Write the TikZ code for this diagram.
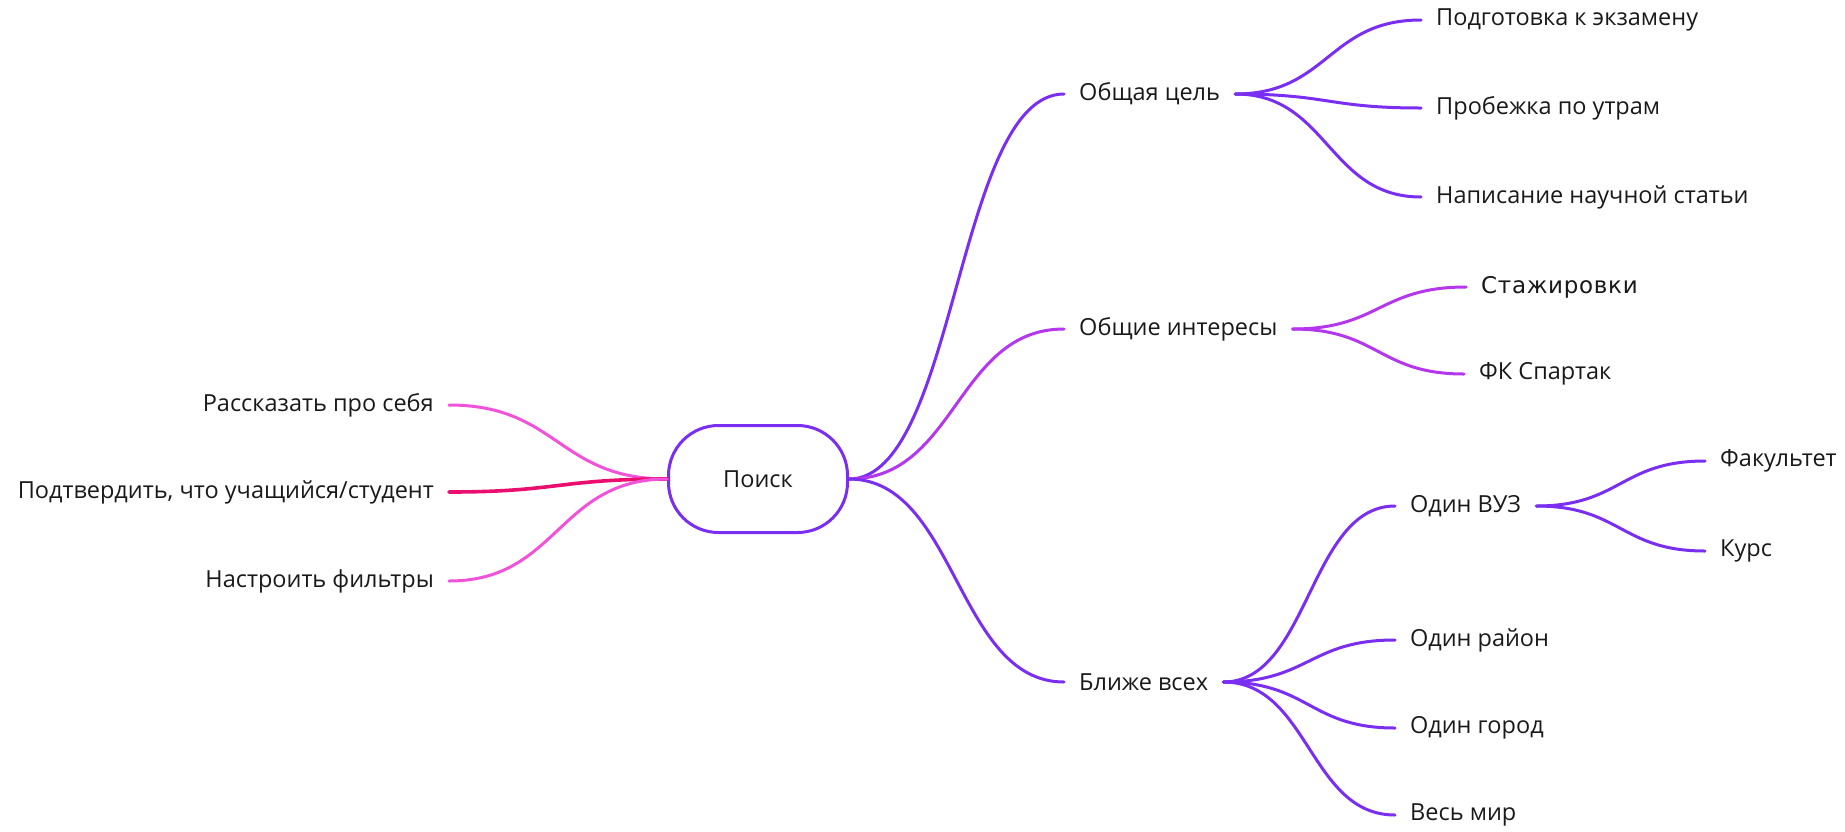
\documentclass[tikz,border=0pt]{standalone}
\usepackage{fontspec}
\setmainfont{Open Sans}
\newfontfamily\widefont[LetterSpace=3]{DejaVu Sans}
\usepackage{tikz}
\usetikzlibrary{calc,positioning}
\definecolor{mapviolet}{HTML}{7A2EF2}
\definecolor{maporchid}{HTML}{B437EE}
\definecolor{mappink}{HTML}{F052DA}
\definecolor{mapcrimson}{HTML}{EC0E6E}
\tikzstyle{branch} = [line width=3pt, line cap=round]
\tikzstyle{topic} = [inner xsep=15pt, inner ysep=2pt, font=\fontsize{23.5}{28}\selectfont, text=black!90]
\newcommand{\linkto}[3]{\draw[branch,#1] let \p1=(#2), \p2=(#3) in (\p1) .. controls ({0.5*\x1+0.5*\x2},\y1) and ({0.5*\x1+0.5*\x2},\y2) .. (\p2);}

\begin{document}
\begin{tikzpicture}[x=1pt,y=-1pt]
\useasboundingbox (0,0) rectangle (1845,831);
\node[draw=mapviolet, line width=3pt, rounded corners=50pt, minimum width=179pt, minimum height=107pt, font=\fontsize{23.5}{28}\selectfont, text=black!90] (search) at (758,479) {Поиск};

% left side
\foreach \nm/\y/\t in {about/405/Рассказать про себя,confirm/492/{Подтвердить, что учащийся/студент},filters/581/Настроить фильтры}{
  \node[topic, anchor=east] (\nm) at (449,\y) {\t};
}
\linkto{mappink}{about.east}{search.west}
\linkto{mapcrimson, line width=3.6pt}{confirm.east}{search.west}
\linkto{mappink}{filters.east}{search.west}

% first level
\node[topic, anchor=west] (goal) at (1064,94) {Общая цель};
\node[topic, anchor=west] (interests) at (1064,329) {Общие интересы};
\node[topic, anchor=west] (nearest) at (1064,682) {Ближе всех};
\linkto{mapviolet}{search.east}{goal.west}
\linkto{maporchid}{search.east}{interests.west}
\linkto{mapviolet}{search.east}{nearest.west}

% second level
\foreach \nm/\y/\t in {exam/20/Подготовка к экзамену,running/108/Пробежка по утрам,paper/197/Написание научной статьи}{
  \node[topic, anchor=west] (\nm) at (1421,\y) {\t};
  \linkto{mapviolet}{goal.east}{\nm.west}
}
\node[topic, anchor=west, font=\widefont\fontsize{23}{27}\selectfont] (intern) at (1466,287) {Стажировки};
\node[topic, anchor=west] (spartak) at (1464,374) {ФК Спартак};
\linkto{maporchid}{interests.east}{intern.west}
\linkto{maporchid}{interests.east}{spartak.west}
\foreach \nm/\y/\t in {uni/506/Один ВУЗ,district/640/Один район,city/728/Один город,world/815/Весь мир}{
  \node[topic, anchor=west] (\nm) at (1395,\y) {\t};
  \linkto{mapviolet}{nearest.east}{\nm.west}
}

% third level
\node[topic, anchor=west] (faculty) at (1705,461) {Факультет};
\node[topic, anchor=west] (course) at (1705,551) {Курс};
\linkto{mapviolet}{uni.east}{faculty.west}
\linkto{mapviolet}{uni.east}{course.west}
\end{tikzpicture}
\end{document}
